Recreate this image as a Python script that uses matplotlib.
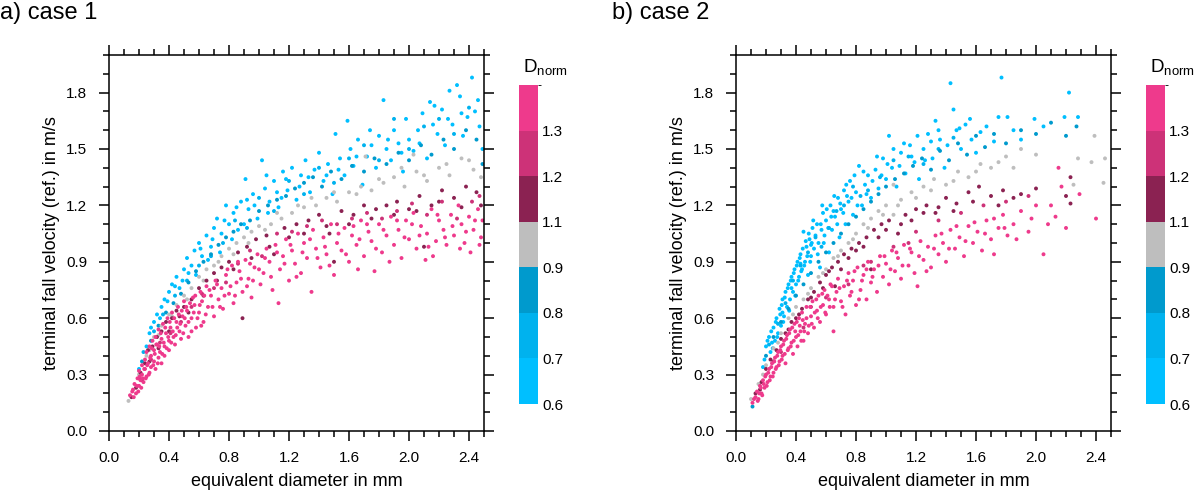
"""
Terminal fall velocity vs. equivalent diameter, coloured by D_norm,
for two cases side by side.
"""

import numpy as np
import matplotlib
matplotlib.use("Agg")
import matplotlib.pyplot as plt
from matplotlib.colors import ListedColormap, BoundaryNorm
from matplotlib.cm import ScalarMappable
from matplotlib.ticker import MultipleLocator, FormatStrFormatter

plt.rcParams["font.family"] = ["Liberation Sans", "DejaVu Sans"]

# colour scale
DNORM_BOUNDS = [0.6, 0.7, 0.8, 0.9, 1.1, 1.2, 1.3, 1.4]
DNORM_TICKS = [0.6, 0.7, 0.8, 0.9, 1.1, 1.2, 1.3]
DNORM_COLORS = ["#00BFFF", "#00B2EE", "#009ACD", "#BEBEBE",
                "#8B2252", "#CD3278", "#EE3A8C"]

# D_norm value of each point group (cyan, light blue, blue, gray, maroon, magenta, pink)
GROUP_DNORM = [0.65, 0.75, 0.85, 1.0, 1.15, 1.25, 1.35]

X_TICKS = [0.0, 0.4, 0.8, 1.2, 1.6, 2.0, 2.4]
Y_TICKS = [0.0, 0.3, 0.6, 0.9, 1.2, 1.5, 1.8]

# ---------------- case 1 (x = diameter mm, y = velocity m/s) ----------------
A_CYAN = [
    (0.20, 0.33), (0.25, 0.45), (0.27, 0.52), (0.30, 0.58), (0.32, 0.62), (0.35, 0.66),
    (0.37, 0.70), (0.40, 0.74), (0.42, 0.78), (0.45, 0.82), (0.47, 0.76), (0.50, 0.86),
    (0.52, 0.92), (0.55, 0.88), (0.57, 0.96), (0.60, 1.00), (0.62, 0.93), (0.65, 1.04),
    (0.68, 0.98), (0.70, 1.08), (0.72, 1.13), (0.75, 1.05), (0.78, 1.20), (0.80, 1.10),
    (0.83, 1.16), (0.86, 1.07), (0.88, 1.22), (0.91, 1.34), (0.93, 1.18), (0.96, 1.26),
    (0.99, 1.13), (1.02, 1.44), (1.04, 1.29), (1.07, 1.22), (1.10, 1.33), (1.13, 1.19),
    (1.16, 1.38), (1.19, 1.28), (1.22, 1.40), (1.25, 1.23), (1.28, 1.36), (1.31, 1.44),
    (1.34, 1.27), (1.37, 1.39), (1.40, 1.48), (1.43, 1.33), (1.46, 1.42), (1.49, 1.26),
    (1.51, 1.58), (1.54, 1.45), (1.57, 1.36), (1.59, 1.65), (1.61, 1.50), (1.63, 1.41),
    (1.66, 1.55), (1.69, 1.31), (1.72, 1.46), (1.75, 1.52), (1.78, 1.40), (1.80, 1.57),
    (1.83, 1.76), (1.85, 1.50), (1.88, 1.44), (1.90, 1.60), (1.93, 1.53), (1.96, 1.38),
    (1.98, 1.66), (2.00, 1.55), (2.03, 1.49), (2.06, 1.60), (2.09, 1.69), (2.12, 1.45),
    (2.14, 1.75), (2.17, 1.73), (2.19, 1.58), (2.22, 1.71), (2.24, 1.52), (2.27, 1.81),
    (2.29, 1.63), (2.32, 1.84), (2.34, 1.78), (2.36, 1.57), (2.39, 1.67), (2.42, 1.88),
    (2.44, 1.70), (2.47, 1.62), (2.49, 1.50), (0.58, 0.83), (0.66, 0.91), (0.74, 0.95),
    (0.82, 1.02), (0.90, 1.10), (1.06, 1.16), (1.15, 1.24),
    (0.28, 0.55), (0.34, 0.60), (0.39, 0.69), (0.44, 0.77), (0.49, 0.80), (0.53, 0.84),
    (0.61, 0.97), (0.69, 1.02), (0.77, 1.12), (0.85, 1.19), (0.92, 1.23), (0.97, 1.20),
    (1.05, 1.36), (1.12, 1.27), (1.18, 1.34), (1.27, 1.30), (1.33, 1.35), (1.45, 1.36),
    (1.53, 1.39), (1.65, 1.46), (1.74, 1.60), (1.86, 1.55), (1.95, 1.48), (2.07, 1.53),
    (2.16, 1.63), (2.26, 1.66), (2.35, 1.69), (2.46, 1.76),
]
A_LIGHT = [
    (0.23, 0.42), (0.30, 0.53), (0.36, 0.62), (0.44, 0.72), (0.52, 0.80), (0.60, 0.88),
    (0.68, 0.93), (0.76, 1.00), (0.84, 1.12), (0.92, 1.08), (1.00, 1.24), (1.10, 1.17),
    (1.20, 1.33), (1.30, 1.26), (1.40, 1.40), (1.50, 1.32), (1.60, 1.45), (1.70, 1.52),
    (1.80, 1.44), (1.90, 1.66), (2.00, 1.50), (2.10, 1.62), (2.20, 1.66), (2.30, 1.58),
    (2.40, 1.72),
]
A_BLUE = [
    (0.22, 0.37), (0.28, 0.48), (0.33, 0.56), (0.38, 0.63), (0.43, 0.68), (0.48, 0.73),
    (0.53, 0.79), (0.58, 0.85), (0.63, 0.90), (0.68, 0.94), (0.73, 0.99), (0.78, 1.03),
    (0.83, 1.06), (0.88, 1.10), (0.94, 1.12), (1.00, 1.17), (1.06, 1.20), (1.12, 1.23),
    (1.18, 1.25), (1.24, 1.29), (1.30, 1.32), (1.36, 1.35), (1.42, 1.30), (1.48, 1.38),
    (1.55, 1.34), (1.62, 1.41), (1.70, 1.38), (1.77, 1.45), (1.85, 1.42), (1.93, 1.48),
    (2.00, 1.44), (2.08, 1.52), (2.15, 1.47), (2.23, 1.55), (2.30, 1.50), (2.38, 1.60),
    (2.45, 1.55), (2.49, 1.42),
]
A_GRAY = [
    (0.13, 0.16), (0.20, 0.30), (0.25, 0.40), (0.30, 0.50), (0.35, 0.56), (0.40, 0.62),
    (0.45, 0.67), (0.50, 0.72), (0.55, 0.76), (0.60, 0.82), (0.65, 0.86), (0.70, 0.88),
    (0.75, 0.93), (0.80, 0.97), (0.85, 1.00), (0.90, 1.03), (0.95, 1.06), (1.00, 1.09),
    (1.08, 1.10), (1.15, 1.13), (1.22, 1.16), (1.30, 1.19), (1.38, 1.20), (1.45, 1.24),
    (1.52, 1.22), (1.60, 1.27), (1.68, 1.30), (1.75, 1.28), (1.83, 1.32), (1.90, 1.35),
    (1.97, 1.30), (2.05, 1.38), (2.12, 1.33), (2.20, 1.40), (2.27, 1.36), (2.35, 1.45),
    (2.43, 1.39), (2.48, 1.35), (1.71, 1.46), (2.03, 1.47),
    (0.27, 0.43), (0.33, 0.51), (0.42, 0.61), (0.52, 0.70), (0.63, 0.80), (0.73, 0.90),
    (0.83, 0.94), (0.93, 1.00), (1.04, 1.07), (1.12, 1.16), (1.26, 1.20), (1.35, 1.24),
    (1.50, 1.27), (1.65, 1.26), (1.80, 1.34), (1.95, 1.40), (2.10, 1.36), (2.25, 1.42),
    (2.40, 1.44),
]
A_MAROON = [
    (0.15, 0.18), (0.18, 0.23), (0.21, 0.31), (0.24, 0.36), (0.26, 0.43), (0.29, 0.45),
    (0.32, 0.50), (0.35, 0.53), (0.38, 0.58), (0.42, 0.60), (0.45, 0.64), (0.50, 0.66),
    (0.55, 0.70), (0.60, 0.76), (0.65, 0.80), (0.70, 0.84), (0.75, 0.87), (0.80, 0.90),
    (0.86, 0.95), (0.92, 0.98), (0.98, 1.02), (1.05, 1.04), (1.10, 0.94), (1.17, 1.08),
    (1.25, 1.10), (1.33, 1.12), (1.40, 1.15), (1.47, 1.05), (1.55, 1.17), (1.63, 1.15),
    (1.70, 1.20), (1.78, 1.18), (1.85, 1.20), (1.92, 1.22), (2.00, 1.18), (2.07, 1.25),
    (2.15, 1.20), (2.22, 1.28), (2.30, 1.24), (2.38, 1.30), (2.45, 1.27), (0.89, 0.60),
    (1.50, 0.90), (2.10, 0.98),
    (0.22, 0.27), (0.27, 0.37), (0.33, 0.44), (0.40, 0.53), (0.47, 0.61), (0.53, 0.63),
    (0.63, 0.72), (0.72, 0.80), (0.83, 0.86), (0.95, 0.92), (1.07, 0.98), (1.20, 1.03),
    (1.30, 1.05), (1.45, 1.09), (1.60, 1.10), (1.75, 1.13), (1.90, 1.15), (2.05, 1.17),
    (2.20, 1.22), (2.35, 1.19), (2.48, 1.20),
]
A_MAGENTA = [
    (0.20, 0.28), (0.28, 0.38), (0.34, 0.47), (0.41, 0.52), (0.48, 0.58), (0.55, 0.66),
    (0.62, 0.73), (0.70, 0.76), (0.78, 0.79), (0.86, 0.89), (0.94, 0.96), (1.02, 0.93),
    (1.12, 1.05), (1.22, 1.06), (1.32, 1.09), (1.42, 1.12), (1.52, 1.10), (1.62, 1.13),
    (1.72, 1.16), (1.82, 1.13), (1.92, 1.17), (2.02, 1.21), (2.12, 1.15), (2.22, 1.22),
    (2.32, 1.13), (2.42, 1.22), (2.47, 1.25),
]
A_PINK = [
    (0.14, 0.19), (0.16, 0.22), (0.17, 0.25), (0.18, 0.20), (0.19, 0.28), (0.20, 0.24),
    (0.20, 0.32), (0.21, 0.27), (0.22, 0.35), (0.22, 0.30), (0.23, 0.26), (0.24, 0.38),
    (0.24, 0.33), (0.25, 0.29), (0.25, 0.42), (0.26, 0.36), (0.27, 0.31), (0.27, 0.45),
    (0.28, 0.40), (0.28, 0.34), (0.29, 0.48), (0.30, 0.37), (0.30, 0.43), (0.31, 0.33),
    (0.31, 0.50), (0.32, 0.46), (0.33, 0.39), (0.33, 0.54), (0.34, 0.42), (0.35, 0.36),
    (0.35, 0.49), (0.36, 0.57), (0.37, 0.45), (0.37, 0.40), (0.38, 0.52), (0.39, 0.60),
    (0.40, 0.48), (0.40, 0.43), (0.41, 0.55), (0.42, 0.63), (0.43, 0.50), (0.44, 0.46),
    (0.45, 0.58), (0.46, 0.66), (0.47, 0.53), (0.48, 0.49), (0.49, 0.61), (0.50, 0.69),
    (0.51, 0.56), (0.52, 0.64), (0.53, 0.50), (0.55, 0.60), (0.56, 0.71), (0.57, 0.67),
    (0.58, 0.55), (0.60, 0.63), (0.61, 0.74), (0.62, 0.69), (0.63, 0.58), (0.65, 0.77),
    (0.66, 0.66), (0.68, 0.72), (0.70, 0.61), (0.71, 0.80), (0.73, 0.70), (0.75, 0.76),
    (0.76, 0.65), (0.78, 0.83), (0.80, 0.73), (0.82, 0.88), (0.83, 0.68), (0.85, 0.79),
    (0.87, 0.85), (0.89, 0.74), (0.91, 0.91), (0.93, 0.81), (0.95, 0.71), (0.97, 0.87),
    (0.99, 0.94), (1.01, 0.78), (1.03, 0.84), (1.05, 0.97), (1.07, 0.90), (1.09, 0.75),
    (1.11, 0.99), (1.13, 0.68), (1.14, 0.86), (1.16, 0.93), (1.18, 1.02), (1.20, 0.80),
    (1.22, 0.96), (1.24, 0.89), (1.26, 1.05), (1.28, 0.84), (1.30, 1.00), (1.32, 0.92),
    (1.35, 0.74), (1.36, 1.07), (1.38, 0.97), (1.41, 0.87), (1.43, 1.03), (1.45, 0.94),
    (1.48, 1.10), (1.50, 0.83), (1.52, 1.00), (1.55, 0.96), (1.57, 1.08), (1.60, 0.90),
    (1.62, 1.04), (1.65, 0.99), (1.66, 0.86), (1.68, 1.12), (1.70, 0.93), (1.73, 1.06),
    (1.75, 1.01), (1.77, 0.85), (1.80, 1.10), (1.82, 0.95), (1.85, 1.04), (1.88, 1.14),
    (1.90, 0.99), (1.93, 1.07), (1.95, 0.92), (1.98, 1.12), (2.00, 1.02), (2.03, 1.16),
    (2.05, 0.97), (2.08, 1.09), (2.11, 0.91), (2.12, 1.05), (2.15, 1.18), (2.16, 0.93),
    (2.18, 1.01), (2.20, 1.12), (2.23, 1.07), (2.25, 0.99), (2.28, 1.15), (2.30, 1.04),
    (2.33, 1.20), (2.35, 1.10), (2.37, 1.00), (2.40, 1.14), (2.41, 0.95), (2.43, 1.07),
    (2.46, 1.18), (2.48, 1.03), (2.49, 1.12),
    (0.155, 0.21), (0.165, 0.18), (0.185, 0.24), (0.195, 0.21), (0.205, 0.29), (0.215, 0.23),
    (0.225, 0.28), (0.235, 0.33), (0.245, 0.28), (0.255, 0.35), (0.265, 0.30), (0.275, 0.39),
    (0.285, 0.44), (0.295, 0.35), (0.305, 0.41), (0.315, 0.46), (0.325, 0.36), (0.335, 0.45),
    (0.345, 0.52), (0.355, 0.41), (0.365, 0.47), (0.375, 0.55), (0.385, 0.44), (0.395, 0.50),
    (0.405, 0.58), (0.415, 0.47), (0.425, 0.53), (0.435, 0.60), (0.445, 0.51), (0.455, 0.55),
    (0.465, 0.62), (0.475, 0.57), (0.485, 0.64), (0.495, 0.52), (0.505, 0.60), (0.515, 0.66),
    (0.53, 0.58), (0.54, 0.68), (0.55, 0.53), (0.565, 0.63), (0.575, 0.72), (0.59, 0.60),
    (0.605, 0.67), (0.615, 0.56), (0.635, 0.72), (0.645, 0.62), (0.67, 0.75), (0.69, 0.66),
    (0.72, 0.78), (0.74, 0.66), (0.77, 0.72), (0.79, 0.86), (0.81, 0.77), (0.84, 0.72),
    (0.86, 0.90), (0.88, 0.81), (0.92, 0.77), (0.94, 0.89), (0.96, 0.80), (1.00, 0.86),
    (1.04, 0.92), (1.08, 0.82), (1.12, 0.95), (1.17, 0.89), (1.21, 0.99), (1.25, 0.82),
    (1.29, 0.95), (1.34, 1.02), (1.39, 0.92), (1.44, 0.98), (1.47, 0.88), (1.53, 1.05),
    (1.58, 0.94), (1.63, 1.09), (1.67, 1.02), (1.72, 1.10), (1.78, 0.97), (1.83, 1.07),
    (1.87, 0.90), (1.92, 1.12), (1.97, 1.03), (2.02, 1.10), (2.07, 1.04), (2.13, 0.98),
    (2.19, 1.15), (2.24, 1.03), (2.29, 1.09), (2.34, 0.97), (2.38, 1.06), (2.44, 1.12),
    (2.47, 0.99),
]

# ---------------- case 2 ----------------
B_CYAN = [
    (0.18, 0.34), (0.20, 0.45), (0.22, 0.50), (0.23, 0.42), (0.25, 0.55), (0.26, 0.48),
    (0.27, 0.60), (0.28, 0.52), (0.29, 0.65), (0.30, 0.56), (0.31, 0.70), (0.32, 0.61),
    (0.33, 0.74), (0.34, 0.66), (0.35, 0.78), (0.36, 0.70), (0.37, 0.82), (0.38, 0.74),
    (0.39, 0.86), (0.40, 0.78), (0.41, 0.90), (0.42, 0.82), (0.43, 0.94), (0.44, 0.86),
    (0.45, 1.06), (0.46, 0.90), (0.47, 0.98), (0.48, 0.83), (0.49, 1.02), (0.50, 0.93),
    (0.51, 1.08), (0.52, 0.97), (0.54, 1.10), (0.55, 1.00), (0.56, 0.87), (0.58, 1.16),
    (0.59, 1.04), (0.60, 1.12), (0.62, 0.95), (0.63, 1.20), (0.64, 1.07), (0.66, 1.14),
    (0.68, 1.24), (0.69, 1.03), (0.70, 1.18), (0.72, 1.28), (0.73, 1.10), (0.75, 1.22),
    (0.76, 1.33), (0.78, 1.15), (0.80, 1.27), (0.82, 1.41), (0.84, 1.20), (0.86, 1.31),
    (0.88, 1.36), (0.90, 1.24), (0.93, 1.39), (0.95, 1.29), (0.98, 1.45), (1.00, 1.34),
    (1.02, 1.57), (1.04, 1.40), (1.07, 1.30), (1.10, 1.48), (1.13, 1.37), (1.16, 1.52),
    (1.19, 1.43), (1.22, 1.34), (1.25, 1.50), (1.28, 1.58), (1.31, 1.45), (1.33, 1.65),
    (1.36, 1.55), (1.39, 1.40), (1.43, 1.85), (1.45, 1.71), (1.47, 1.60), (1.50, 1.50),
    (1.53, 1.63), (1.57, 1.55), (1.60, 1.48), (1.63, 1.59), (1.67, 1.62), (1.72, 1.54),
    (1.75, 1.67), (1.77, 1.88), (1.81, 1.67), (1.85, 1.60), (1.90, 1.55), (1.99, 1.66),
    (2.05, 1.62), (2.19, 1.67), (2.22, 1.80), (2.28, 1.67), (0.24, 0.47), (0.31, 0.63),
    (0.37, 0.76), (0.43, 0.89), (0.50, 0.99), (0.57, 1.07), (0.65, 1.17), (0.74, 1.25),
    (0.19, 0.38), (0.21, 0.48), (0.235, 0.53), (0.245, 0.44), (0.265, 0.58), (0.275, 0.50),
    (0.295, 0.62), (0.305, 0.67), (0.315, 0.58), (0.325, 0.71), (0.345, 0.76), (0.355, 0.64),
    (0.365, 0.80), (0.385, 0.84), (0.395, 0.72), (0.405, 0.88), (0.415, 0.80), (0.425, 0.92),
    (0.435, 0.85), (0.445, 0.97), (0.455, 0.88), (0.465, 1.01), (0.475, 0.93), (0.485, 1.05),
    (0.495, 0.90), (0.505, 1.00), (0.515, 1.12), (0.53, 1.04), (0.545, 0.94), (0.565, 1.10),
    (0.575, 1.20), (0.585, 1.00), (0.605, 1.18), (0.615, 1.08), (0.635, 1.14), (0.655, 1.25),
    (0.675, 1.10), (0.695, 1.21), (0.715, 1.16), (0.735, 1.31), (0.77, 1.24), (0.79, 1.36),
    (0.81, 1.20), (0.85, 1.38), (0.87, 1.26), (0.91, 1.33), (0.94, 1.46), (0.97, 1.36),
    (1.01, 1.42), (1.05, 1.50), (1.09, 1.41), (1.12, 1.53), (1.17, 1.46), (1.21, 1.57),
    (1.26, 1.44), (1.30, 1.54), (1.35, 1.60), (1.41, 1.52), (1.49, 1.61), (1.56, 1.66),
]
B_LIGHT = [
    (0.22, 0.46), (0.28, 0.57), (0.33, 0.68), (0.38, 0.80), (0.43, 0.88), (0.48, 0.95),
    (0.53, 1.03), (0.57, 0.98), (0.62, 1.08), (0.67, 1.17), (0.72, 1.20), (0.78, 1.30),
    (0.83, 1.25), (0.88, 1.28), (0.96, 1.35), (1.05, 1.44), (1.15, 1.46), (1.25, 1.42),
    (1.35, 1.50), (1.45, 1.56),
]
B_BLUE = [
    (0.11, 0.13), (0.20, 0.40), (0.25, 0.50), (0.30, 0.58), (0.35, 0.65), (0.40, 0.72),
    (0.45, 0.78), (0.50, 0.84), (0.55, 0.90), (0.60, 0.95), (0.65, 1.00), (0.70, 1.05),
    (0.75, 1.10), (0.80, 1.14), (0.85, 1.18), (0.90, 1.22), (0.95, 1.26), (1.00, 1.30),
    (1.06, 1.34), (1.12, 1.37), (1.18, 1.41), (1.24, 1.45), (1.30, 1.39), (1.36, 1.49),
    (1.42, 1.44), (1.48, 1.53), (1.54, 1.47), (1.60, 1.57), (1.66, 1.51), (1.72, 1.58),
    (1.80, 1.53), (1.90, 1.60), (2.00, 1.58), (2.10, 1.64), (2.20, 1.57), (2.27, 1.62),
]
B_GRAY = [
    (0.10, 0.17), (0.15, 0.25), (0.20, 0.35), (0.25, 0.44), (0.30, 0.52), (0.35, 0.60),
    (0.40, 0.66), (0.45, 0.70), (0.50, 0.76), (0.55, 0.82), (0.60, 0.86), (0.65, 0.92),
    (0.70, 0.96), (0.75, 1.00), (0.80, 1.05), (0.85, 1.10), (0.90, 1.13), (0.95, 1.17),
    (1.00, 1.20), (1.05, 1.15), (1.10, 1.23), (1.17, 1.27), (1.25, 1.30), (1.32, 1.34),
    (1.40, 1.31), (1.48, 1.38), (1.55, 1.35), (1.63, 1.42), (1.70, 1.40), (1.80, 1.46),
    (1.90, 1.50), (2.25, 1.31), (2.28, 1.45), (2.37, 1.43), (2.39, 1.57), (2.45, 1.32),
    (2.46, 1.45), (1.05, 1.31),
    (0.18, 0.30), (0.28, 0.47), (0.38, 0.62), (0.48, 0.73), (0.58, 0.84), (0.68, 0.93),
    (0.78, 1.02), (0.88, 1.08), (0.98, 1.15), (1.08, 1.20), (1.20, 1.24), (1.30, 1.28),
    (1.45, 1.33), (1.60, 1.38), (1.75, 1.43), (1.85, 1.40), (2.00, 1.47),
]
B_MAROON = [
    (0.13, 0.20), (0.17, 0.26), (0.20, 0.33), (0.23, 0.38), (0.27, 0.43), (0.30, 0.49),
    (0.33, 0.52), (0.37, 0.58), (0.40, 0.60), (0.44, 0.65), (0.48, 0.70), (0.52, 0.74),
    (0.56, 0.79), (0.60, 0.83), (0.64, 0.87), (0.68, 0.90), (0.72, 0.94), (0.77, 0.97),
    (0.82, 1.00), (0.87, 1.03), (0.92, 1.07), (0.97, 1.10), (1.02, 1.12), (1.08, 1.05),
    (1.13, 1.15), (1.20, 1.18), (1.27, 1.20), (1.33, 1.16), (1.40, 1.24), (1.47, 1.21),
    (1.55, 1.27), (1.62, 1.30), (1.70, 1.25), (1.78, 1.28), (1.85, 1.24), (2.20, 1.25),
    (2.23, 1.35), (2.23, 1.21), (0.66, 0.77), (0.90, 0.86),
    (0.16, 0.22), (0.25, 0.37), (0.35, 0.54), (0.42, 0.62), (0.50, 0.71), (0.58, 0.76),
    (0.62, 0.85), (0.70, 0.86), (0.75, 0.92), (0.80, 0.96), (0.85, 0.98), (0.95, 1.03),
    (1.00, 1.07), (1.10, 1.10), (1.17, 1.12), (1.25, 1.16), (1.35, 1.19), (1.45, 1.17),
    (1.58, 1.22), (1.75, 1.20), (1.90, 1.26), (2.00, 1.29),
]
B_MAGENTA = [
    (0.30, 0.42), (0.45, 0.55), (0.60, 0.71), (0.75, 0.78), (0.90, 0.90), (1.05, 0.98),
    (1.20, 1.06), (1.35, 1.12), (1.50, 1.16), (1.65, 1.20), (1.80, 1.22), (1.95, 1.25),
    (0.50, 0.66), (0.85, 0.88), (1.15, 1.00),
]
B_PINK = [
    (0.11, 0.15), (0.13, 0.18), (0.14, 0.21), (0.15, 0.17), (0.16, 0.24), (0.17, 0.20),
    (0.18, 0.27), (0.19, 0.23), (0.20, 0.30), (0.21, 0.26), (0.22, 0.33), (0.23, 0.29),
    (0.24, 0.36), (0.25, 0.31), (0.26, 0.39), (0.27, 0.34), (0.28, 0.42), (0.29, 0.37),
    (0.30, 0.45), (0.31, 0.40), (0.32, 0.48), (0.33, 0.36), (0.34, 0.51), (0.35, 0.44),
    (0.36, 0.54), (0.37, 0.47), (0.38, 0.41), (0.39, 0.57), (0.40, 0.50), (0.41, 0.45),
    (0.42, 0.60), (0.43, 0.53), (0.44, 0.63), (0.45, 0.48), (0.46, 0.57), (0.47, 0.66),
    (0.48, 0.52), (0.50, 0.61), (0.51, 0.69), (0.52, 0.55), (0.54, 0.64), (0.55, 0.72),
    (0.56, 0.58), (0.58, 0.67), (0.59, 0.75), (0.60, 0.62), (0.62, 0.70), (0.63, 0.78),
    (0.65, 0.53), (0.65, 0.66), (0.67, 0.74), (0.68, 0.81), (0.70, 0.69), (0.72, 0.77),
    (0.73, 0.62), (0.75, 0.84), (0.76, 0.72), (0.78, 0.80), (0.80, 0.67), (0.81, 0.87),
    (0.83, 0.75), (0.85, 0.83), (0.87, 0.70), (0.88, 0.90), (0.90, 0.79), (0.92, 0.86),
    (0.94, 0.74), (0.96, 0.93), (0.98, 0.82), (1.00, 0.89), (1.02, 0.78), (1.04, 0.96),
    (1.06, 0.85), (1.08, 0.92), (1.10, 0.81), (1.12, 0.99), (1.15, 0.88), (1.17, 0.95),
    (1.19, 0.84), (1.21, 0.77), (1.23, 1.01), (1.25, 0.91), (1.28, 0.98), (1.30, 0.87),
    (1.33, 1.04), (1.35, 0.94), (1.38, 1.00), (1.40, 0.90), (1.43, 1.07), (1.46, 0.97),
    (1.49, 1.03), (1.52, 0.93), (1.55, 1.09), (1.58, 1.00), (1.61, 1.06), (1.64, 0.96),
    (1.67, 1.12), (1.70, 1.02), (1.72, 0.94), (1.75, 1.08), (1.78, 1.15), (1.81, 1.04),
    (1.85, 1.10), (1.90, 1.17), (1.95, 1.06), (2.00, 1.20), (2.05, 0.94), (2.10, 1.20),
    (2.13, 1.14), (2.15, 1.40), (2.17, 1.30), (2.20, 1.08), (2.29, 1.26), (2.40, 1.13),
    (0.12, 0.17), (0.145, 0.16), (0.155, 0.20), (0.165, 0.23), (0.175, 0.19), (0.185, 0.25),
    (0.195, 0.29), (0.205, 0.24), (0.215, 0.31), (0.225, 0.27), (0.235, 0.34), (0.245, 0.29),
    (0.255, 0.37), (0.265, 0.33), (0.275, 0.40), (0.285, 0.35), (0.295, 0.43), (0.305, 0.38),
    (0.315, 0.46), (0.325, 0.41), (0.335, 0.49), (0.345, 0.43), (0.355, 0.52), (0.365, 0.45),
    (0.375, 0.55), (0.385, 0.48), (0.395, 0.53), (0.405, 0.58), (0.415, 0.51), (0.425, 0.56),
    (0.435, 0.48), (0.445, 0.59), (0.455, 0.53), (0.47, 0.60), (0.485, 0.56), (0.495, 0.66),
    (0.505, 0.57), (0.525, 0.63), (0.535, 0.70), (0.545, 0.60), (0.565, 0.66), (0.575, 0.73),
    (0.595, 0.63), (0.61, 0.72), (0.625, 0.66), (0.64, 0.77), (0.66, 0.70), (0.69, 0.76),
    (0.71, 0.66), (0.74, 0.80), (0.77, 0.74), (0.79, 0.85), (0.82, 0.70), (0.84, 0.80),
    (0.87, 0.86), (0.91, 0.82), (0.95, 0.88), (0.99, 0.93), (1.03, 0.86), (1.07, 0.95),
    (1.11, 0.88), (1.16, 0.97), (1.22, 0.93), (1.27, 0.85), (1.32, 0.97), (1.37, 1.05),
    (1.42, 0.97), (1.47, 1.09), (1.53, 1.01), (1.59, 1.11), (1.66, 1.05), (1.72, 1.13),
    (1.79, 1.08), (1.87, 1.02), (1.97, 1.13), (2.08, 1.10),
]

CASE_A = [A_CYAN, A_LIGHT, A_BLUE, A_GRAY, A_MAROON, A_MAGENTA, A_PINK]
CASE_B = [B_CYAN, B_LIGHT, B_BLUE, B_GRAY, B_MAROON, B_MAGENTA, B_PINK]

FIG_W, FIG_H = 1200, 500


def px_box(left, top, right, bottom):
    """Pixel box -> figure fraction [l, b, w, h]."""
    return [left / FIG_W, 1 - bottom / FIG_H, (right - left) / FIG_W, (bottom - top) / FIG_H]


def stack_groups(groups):
    xs, ys, ds = [], [], []
    for pts, dval in zip(groups, GROUP_DNORM):
        arr = np.array(pts)
        xs.append(arr[:, 0])
        ys.append(arr[:, 1])
        ds.append(np.full(len(arr), dval))
    return np.concatenate(xs), np.concatenate(ys), np.concatenate(ds)


def style_axes(ax):
    ax.set_xlim(0, 2.5)
    ax.set_ylim(0, 2.0)
    ax.set_xticks(X_TICKS)
    ax.set_yticks(Y_TICKS)
    ax.xaxis.set_minor_locator(MultipleLocator(0.1))
    ax.yaxis.set_minor_locator(MultipleLocator(0.1))
    ax.xaxis.set_major_formatter(FormatStrFormatter("%.1f"))
    ax.yaxis.set_major_formatter(FormatStrFormatter("%.1f"))
    ax.tick_params(which="both", direction="out", top=True, right=True,
                   width=1.1, labelsize=11)
    ax.tick_params(which="major", length=7.2)
    ax.tick_params(which="minor", length=4.3)
    ax.tick_params(axis="x", which="major", pad=7.5)
    ax.tick_params(axis="y", which="major", pad=8.5)
    for sp in ax.spines.values():
        sp.set_linewidth(1.1)
    ax.set_xlabel("equivalent diameter in mm", fontsize=13, labelpad=5.5)
    ax.set_ylabel("terminal fall velocity (ref.) in m/s", fontsize=13, labelpad=4.5)


def draw_panel(fig, ax_px, cb_px, groups, title, title_x, cmap, norm):
    ax = fig.add_axes(px_box(*ax_px))
    x, y, d = stack_groups(groups)
    ax.scatter(x, y, c=d, cmap=cmap, norm=norm, s=8, marker="o", linewidths=0)
    style_axes(ax)

    cax = fig.add_axes(px_box(*cb_px))
    cb = fig.colorbar(ScalarMappable(norm=norm, cmap=cmap), cax=cax,
                      boundaries=DNORM_BOUNDS, ticks=DNORM_TICKS, spacing="uniform")
    cb.outline.set_visible(False)
    cax.tick_params(length=0, labelsize=11, pad=3)
    cax.set_yticklabels([f"{t:.1f}" for t in DNORM_TICKS])
    fig.text((cb_px[0] + 4) / FIG_W, 1 - 72 / FIG_H, r"$\mathregular{D_{norm}}$",
             fontsize=13.5, ha="left", va="baseline")

    fig.text(title_x, 1 - 2 / FIG_H, title, fontsize=17, ha="left", va="top")


def main():
    cmap = ListedColormap(DNORM_COLORS)
    norm = BoundaryNorm(DNORM_BOUNDS, cmap.N)

    fig = plt.figure(figsize=(12, 5), dpi=100)
    draw_panel(fig, (109, 55, 484, 431), (519, 85, 538, 404),
               CASE_A, "a) case 1", 0.0, cmap, norm)
    draw_panel(fig, (736, 55, 1111, 431), (1146, 85, 1165, 404),
               CASE_B, "b) case 2", 612 / FIG_W, cmap, norm)
    fig.savefig("out.png", dpi=100)
    plt.close(fig)


if __name__ == "__main__":
    main()
